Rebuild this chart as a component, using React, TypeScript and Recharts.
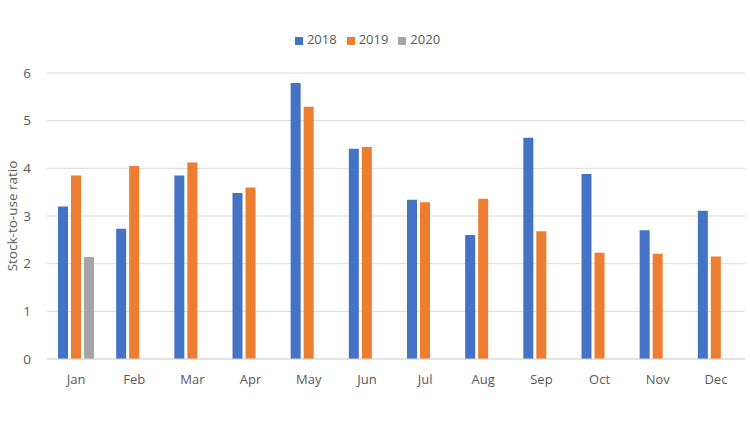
import { Bar, BarChart, CartesianGrid, Legend, XAxis, YAxis } from "recharts";

// monthly stock-to-use ratio
const months = ["Jan", "Feb", "Mar", "Apr", "May", "Jun", "Jul", "Aug", "Sep", "Oct", "Nov", "Dec"];
const values2018 = [3.2, 2.73, 3.85, 3.48, 5.79, 4.41, 3.34, 2.6, 4.64, 3.88, 2.7, 3.11];
const values2019 = [3.85, 4.05, 4.12, 3.6, 5.29, 4.45, 3.29, 3.36, 2.68, 2.23, 2.21, 2.15];
const values2020: (number | null)[] = [2.14, null, null, null, null, null, null, null, null, null, null, null];
const yTicks = [0, 1, 2, 3, 4, 5, 6];

const data = months.map((month, i) => ({
  month,
  y2018: values2018[i],
  y2019: values2019[i],
  y2020: values2020[i],
}));

const font = "'Open Sans', sans-serif";
const textColor = "#595959";

export default function App() {
  return (
    <div style={{ position: "absolute", left: 0, top: 0, width: 750, height: 422, background: "#fff", fontFamily: font }}>
      <BarChart
        width={750}
        height={422}
        data={data}
        margin={{ top: 55, right: 5, left: 0, bottom: 33 }}
        barSize={10}
        barGap={3}
      >
        <CartesianGrid vertical={false} stroke="#d9d9d9" />
        <XAxis
          dataKey="month"
          tickLine={false}
          axisLine={{ stroke: "#d9d9d9" }}
          tickMargin={10}
          height={30}
          tick={{ fill: textColor, fontSize: 13, fontFamily: font }}
        />
        <YAxis
          domain={[0, 6]}
          ticks={yTicks}
          tickLine={false}
          axisLine={false}
          width={47}
          tickMargin={10}
          tick={{ fill: textColor, fontSize: 13.5, fontFamily: font }}
          label={{
            value: "Stock-to-use ratio",
            angle: -90,
            position: "insideLeft",
            offset: 12,
            style: { textAnchor: "middle", fill: textColor, fontSize: 13.5, fontFamily: font },
          }}
        />
        <Legend
          verticalAlign="top"
          align="center"
          iconType="square"
          iconSize={8}
          wrapperStyle={{ top: 30, fontSize: 13, fontFamily: font }}
          formatter={(value) => <span style={{ color: textColor }}>{value}</span>}
        />
        <Bar dataKey="y2018" name="2018" fill="#4472c4" isAnimationActive={false} />
        <Bar dataKey="y2019" name="2019" fill="#ed7d31" isAnimationActive={false} />
        <Bar dataKey="y2020" name="2020" fill="#a5a5a5" isAnimationActive={false} />
      </BarChart>
    </div>
  );
}
